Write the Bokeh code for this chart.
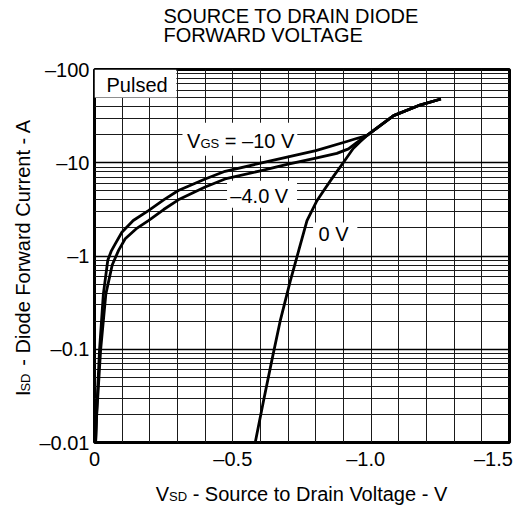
import math
from bokeh.plotting import figure
from bokeh.layouts import column, row
from bokeh.models import Range1d, FixedTicker, Label, BoxAnnotation
from bokeh.embed import file_html
from bokeh.resources import INLINE

# ---- data (magnitudes; the axis labels carry the minus signs) ----
v_vgs10 = [0.004, 0.008, 0.018, 0.032, 0.048, 0.060, 0.075, 0.099, 0.140, 0.195, 0.250,
           0.303, 0.400, 0.472, 0.600, 0.696, 0.800, 0.912, 0.950, 0.984, 1.081, 1.170, 1.252]
i_vgs10 = [0.010, 0.022, 0.097, 0.39, 0.90, 1.12, 1.35, 1.80, 2.40, 3.07, 4.00,
           5.04, 6.70, 8.10, 9.90, 11.5, 13.5, 16.9, 18.3, 19.5, 32.0, 40.9, 48.3]

v_vgs4 = [0.004, 0.008, 0.022, 0.041, 0.064, 0.087, 0.111, 0.150, 0.195, 0.250, 0.303,
          0.400, 0.472, 0.600, 0.696, 0.800, 0.876, 0.918, 0.950, 0.984, 1.081, 1.170, 1.252]
i_vgs4 = [0.010, 0.020, 0.097, 0.39, 0.80, 1.15, 1.53, 1.95, 2.40, 3.15, 4.00,
          5.50, 6.70, 8.20, 9.60, 11.2, 12.6, 14.1, 16.6, 19.5, 32.0, 40.9, 48.3]

v_vgs0 = [0.581, 0.611, 0.641, 0.671, 0.708, 0.738, 0.768, 0.804, 0.828, 0.863, 0.899,
          0.935, 0.960, 0.984, 1.081, 1.170, 1.252]
i_vgs0 = [0.010, 0.028, 0.076, 0.20, 0.545, 1.14, 2.40, 3.92, 5.02, 7.10, 10.0,
          14.2, 16.8, 19.5, 32.0, 40.9, 48.3]

NB = "\u00a0"
x_ticks = [0, 0.5, 1.0, 1.5]
x_tick_labels = ["0", "\u20130.5", "\u20131.0" + NB * 2, "\u20131.5" + NB * 3]
y_ticks = [0.01, 0.1, 1, 10, 100]
y_tick_labels = ["\u20130.01", "\u20130.1", "\u20131", "\u201310", "\u2013100"]

title_lines = ["SOURCE TO DRAIN DIODE", "FORWARD VOLTAGE"]

FONT = "Liberation Sans"
FS = 20.0
SUB = 13.0
SP = 0.278 * FS      # width of a space
BL = 0.32            # baseline correction (fraction of font size)

H_TITLE, H_MAIN, H_XLAB = 55, 423, 30
W_YLAB, W_MAIN = 35, 494
W_ALL = W_YLAB + W_MAIN


def text_fig(w, h):
    f = figure(width=w, height=h, x_range=Range1d(0, w), y_range=Range1d(0, h),
               x_axis_type=None, y_axis_type=None, output_backend="svg",
               toolbar_location=None, title_location=None, min_border=0)
    f.outline_line_color = None
    f.background_fill_color = "white"
    f.border_fill_color = "white"
    return f


def lab(fig, text, x, y, size, xo=0.0, yo=0.0, angle=0.0, align="left"):
    if angle == 0.0:
        yo += BL * size
    else:
        xo -= BL * size
    fig.add_layout(Label(x=x, y=y, x_offset=xo, y_offset=yo, text=text, text_font=FONT,
                         text_font_size=f"{size}px", text_color="black", text_align=align,
                         text_baseline="alphabetic", angle=angle))


# ---- main chart ----
p = figure(width=W_MAIN, height=H_MAIN, y_axis_type="log",
           x_range=Range1d(0, 1.5), y_range=Range1d(0.01, 100),
           output_backend="svg", toolbar_location=None, title_location=None,
           min_border_left=59, min_border_top=14, min_border_right=20, min_border_bottom=36)
p.background_fill_color = "white"
p.border_fill_color = "white"
p.outline_line_color = "black"
p.outline_line_width = 3

p.xaxis.ticker = FixedTicker(ticks=x_ticks, minor_ticks=[round(0.1 * k, 1) for k in range(16)])
p.yaxis.ticker = FixedTicker(ticks=y_ticks,
                             minor_ticks=[m * 10.0 ** e for e in range(-2, 2) for m in range(2, 10)])
p.xaxis.major_label_overrides = {t: s for t, s in zip(x_ticks, x_tick_labels)}
p.yaxis.major_label_overrides = {t: s for t, s in zip(y_ticks, y_tick_labels)}

for ax in (p.xaxis, p.yaxis):
    ax.axis_line_color = None
    ax.major_tick_line_color = None
    ax.minor_tick_line_color = None
    ax.major_tick_out = 0
    ax.major_tick_in = 0
    ax.minor_tick_out = 0
    ax.minor_tick_in = 0
    ax.major_label_text_font = FONT
    ax.major_label_text_font_size = f"{FS}px"
    ax.major_label_text_color = "black"
p.xaxis.major_label_standoff = 5
p.yaxis.major_label_standoff = 5

p.xgrid.grid_line_color = "#1a1a1a"
p.xgrid.grid_line_width = 1
p.xgrid.minor_grid_line_color = "#1a1a1a"
p.xgrid.minor_grid_line_width = 1
p.ygrid.grid_line_color = "black"
p.ygrid.grid_line_width = 1.6
p.ygrid.minor_grid_line_color = "#1a1a1a"
p.ygrid.minor_grid_line_width = 1

# white backgrounds behind the in-plot labels
for l, r, b, t in [(0, 0.296, 50, 100), (0.318, 0.733, 11.9, 26.9),
                   (0.479, 0.732, 3.3, 6.4), (0.79, 0.95, 1.23, 2.28)]:
    p.add_layout(BoxAnnotation(left=l, right=r, bottom=b, top=t, fill_color="white",
                               fill_alpha=1, line_color=None, level="underlay"))

for v, i in [(v_vgs10, i_vgs10), (v_vgs4, i_vgs4), (v_vgs0, i_vgs0)]:
    p.line(v, i, line_width=2.8, line_color="black", line_join="round")

lab(p, "Pulsed", 0.0433, 57.8, FS)
lab(p, "V", 0.3347, 14.6, FS)
lab(p, "GS", 0.3347, 14.6, SUB, xo=0.667 * FS)
lab(p, "= \u201310 V", 0.3347, 14.6, FS, xo=0.667 * FS + 1.445 * SUB + SP)
lab(p, "\u20134.0 V", 0.491, 3.76, FS)
lab(p, "0 V", 0.81, 1.46, FS)

# ---- title ----
tf = text_fig(W_ALL, H_TITLE)
lab(tf, title_lines[0], 163, H_TITLE - 21.7, FS)
lab(tf, title_lines[1], 163, H_TITLE - 41.0, FS)

# ---- y axis label (rotated, reads bottom to top) ----
yf = text_fig(W_YLAB, H_MAIN)
ang = math.pi / 2
YX = 29.0


def rot_fix(w):
    # measured drift of rotated labels along the text direction
    return 29.5 - 0.087 * w


main_w = 12.336 * FS
sd_w = 1.389 * SUB
i_w = 0.278 * FS
total_w = i_w + sd_w + SP + main_w
bottom_img = 257.5 + total_w / 2            # image y where the label starts
base = H_TITLE + H_MAIN                     # image y of yf's bottom edge
start_main = bottom_img - (i_w + sd_w + SP)
lab(yf, "- Diode Forward Current - A", YX, base - (start_main - main_w / 2) - rot_fix(main_w), FS,
    angle=ang, align="center")
lab(yf, "SD", YX, base - (start_main + SP) - rot_fix(sd_w), SUB, angle=ang, align="right")
lab(yf, "I", YX, base - (start_main + SP + sd_w) - rot_fix(i_w), FS, angle=ang, align="right")

# ---- x axis label ----
xf = text_fig(W_ALL, H_XLAB)
wx = 0.667 * FS + 1.389 * SUB + 13.061 * FS
x0 = 301.5 - wx / 2
lab(xf, "V", x0, 8, FS)
lab(xf, "SD", x0 + 0.667 * FS, 8, SUB)
lab(xf, "- Source to Drain Voltage - V", x0 + 0.667 * FS + 1.389 * SUB + SP, 8, FS)

layout = column(tf, row(yf, p), xf)
open("out.html", "w").write(file_html(layout, INLINE))
